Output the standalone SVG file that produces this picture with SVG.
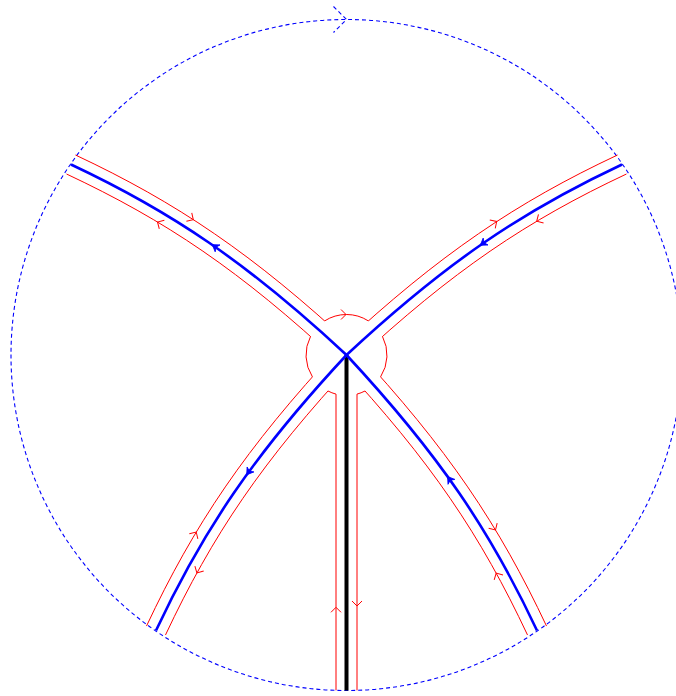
<svg xmlns="http://www.w3.org/2000/svg" width="676" height="696" viewBox="0 0 676 696">
<style>
.red{fill:none;stroke:#ff0000;stroke-width:1;}
.blue{fill:none;stroke:#0000ff;stroke-width:2.6;}
.bnd{fill:none;stroke:#0000ff;stroke-width:1.1;stroke-dasharray:4 3;}
.cut{fill:none;stroke:#000000;stroke-width:4;}
.rarr{fill:none;stroke:#ff0000;stroke-width:1;}
.barr{fill:#0000ff;stroke:#0000ff;stroke-width:0.8;stroke-linejoin:round;}
</style>
<defs>
<clipPath id="annulus"><path clip-rule="evenodd" d="M0,0H676V696H0Z M346.5,314.5 A40.5,40.5 0 1,0 346.5,395.5 A40.5,40.5 0 1,0 346.5,314.5Z"/></clipPath>
<path id="rh" d="M-5,-5 L0,0 L-5,5"/>
<path id="bh" d="M1.5,0 L-5,-4.2 L-3,0 L-5,4.2Z"/>
</defs>
<rect width="676" height="696" fill="#ffffff"/>
<g id="boundary">
<circle class="bnd" cx="346.5" cy="355" r="335.5"/>
<path class="bnd" d="M333.5,6.5 L346.5,19.5 L333.5,32.5"/>
</g>
<g id="red-lenses">
<g clip-path="url(#annulus)">
<path class="red" d="M353.65,347.31 C253.04,253.74 176.18,202.33 75.46,155.0"/>
<path class="red" d="M339.35,362.69 C239.96,270.26 165.82,220.67 66.54,174.0"/>
<path class="red" d="M339.35,347.31 C439.96,253.74 516.82,202.33 617.54,155.0"/>
<path class="red" d="M353.65,362.69 C453.04,270.26 527.18,220.67 626.46,174.0"/>
<path class="red" d="M338.81,347.85 C245.24,448.46 193.83,525.32 146.5,626.04"/>
<path class="red" d="M354.19,362.15 C261.76,461.54 212.17,535.68 165.5,634.96"/>
<path class="red" d="M354.19,347.85 C447.76,448.46 499.17,525.32 546.5,626.04"/>
<path class="red" d="M338.81,362.15 C431.24,461.54 480.83,535.68 527.5,634.96"/>
</g>
<path class="red" d="M336,394.12 V690.3"/>
<path class="red" d="M357,394.12 V690.3"/>
<path class="red" d="M324.63,320.91 A40.5,40.5 0 0,1 368.37,320.91"/>
<path class="red" d="M382.48,336.46 A40.5,40.5 0 0,1 380.59,376.87"/>
<path class="red" d="M365.04,390.98 A40.5,40.5 0 0,1 356.98,394.12"/>
<path class="red" d="M336.02,394.12 A40.5,40.5 0 0,1 327.96,390.98"/>
<path class="red" d="M312.41,376.87 A40.5,40.5 0 0,1 310.52,336.46"/>
</g>
<g id="red-arrows" class="rarr">
<use href="#rh" transform="translate(193.3,219.7) rotate(32.4)"/>
<use href="#rh" transform="translate(157.5,222) rotate(-149.6)"/>
<use href="#rh" transform="translate(496.7,221.5) rotate(-33)"/>
<use href="#rh" transform="translate(536.7,221.2) rotate(149.6)"/>
<use href="#rh" transform="translate(346,314.5)"/>
<use href="#rh" transform="translate(196.2,532) rotate(-58.6)"/>
<use href="#rh" transform="translate(196.9,573) rotate(118.5)"/>
<use href="#rh" transform="translate(495.5,530) rotate(58.6)"/>
<use href="#rh" transform="translate(496.2,573) rotate(-118.5)"/>
<use href="#rh" transform="translate(336,607.3) rotate(-90)"/>
<use href="#rh" transform="translate(357,606) rotate(90)"/>
</g>
<g id="cut">
<path class="cut" d="M346.5,355 V690.5"/>
</g>
<g id="blue-contours">
<path class="blue" d="M346.5,355 C246.5,262 171,211.5 71,164.5"/>
<path class="blue" d="M346.5,355 C446.5,262 522,211.5 622,164.5"/>
<path class="blue" d="M346.5,355 C253.5,455 203,530.5 156,630.5"/>
<path class="blue" d="M346.5,355 C439.5,455 490,530.5 537,630.5"/>
</g>
<g id="blue-arrows" class="barr">
<use href="#bh" transform="translate(213.5,245.5) rotate(-145.1)"/>
<use href="#bh" transform="translate(481.5,244.4) rotate(145.1)"/>
<use href="#bh" transform="translate(247.6,473.5) rotate(125.9)"/>
<use href="#bh" transform="translate(448.5,477.8) rotate(-125.9)"/>
</g>
</svg>
